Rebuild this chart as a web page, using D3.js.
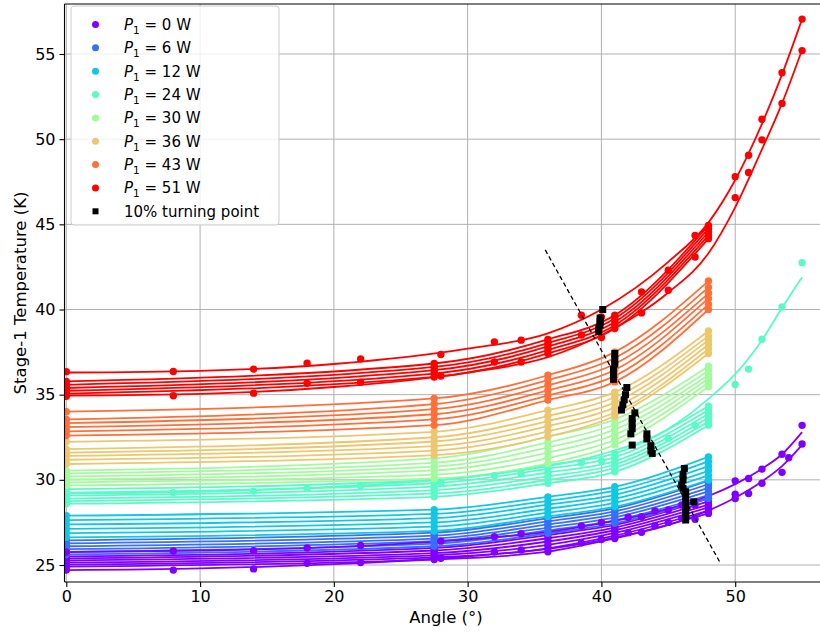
<!DOCTYPE html>
<html>
<head>
<meta charset="utf-8">
<script src="https://cdn.jsdelivr.net/npm/d3@7"></script>
<style>
body { margin: 0; background: #fff; }
svg { font-family: "DejaVu Sans", sans-serif; }
</style>
</head>
<body>
<div id="chart"></div>
<script>
// ---- data ----

var powers = [0, 6, 12, 24, 30, 36, 43, 51];
var colors = ["#8000ff", "#376ff9", "#12c7e6", "#5bf9c7", "#a4f99f", "#edc76f", "#ff6f39", "#ff0000"];

// short runs, measured at these angles (one row per curve)
var shortAngles = [0, 27.5, 36, 41, 48];

var shortP0 = [
  [25.50, 26.00, 26.76, 27.35, 28.91],
  [25.38, 25.85, 26.57, 27.20, 28.73],
  [25.26, 25.70, 26.38, 27.04, 28.55],
  [25.14, 25.57, 26.18, 26.88, 28.38],
  [25.02, 25.45, 25.98, 26.72, 28.20],
  [24.90, 25.32, 25.78, 26.56, 28.03]
];
var shortP6 = [
  [26.45, 26.90, 27.74, 28.32, 29.95],
  [26.27, 26.72, 27.56, 28.15, 29.74],
  [26.10, 26.55, 27.38, 27.97, 29.53],
  [25.93, 26.40, 27.20, 27.80, 29.32],
  [25.77, 26.25, 27.03, 27.62, 29.11],
  [25.62, 26.10, 26.86, 27.45, 28.91]
];
var shortP12 = [
  [27.90, 28.25, 29.00, 29.59, 31.35],
  [27.64, 28.00, 28.77, 29.36, 31.08],
  [27.38, 27.75, 28.54, 29.12, 30.80],
  [27.12, 27.50, 28.30, 28.89, 30.53],
  [26.87, 27.25, 28.07, 28.65, 30.26],
  [26.62, 27.00, 27.85, 28.42, 29.99]
];
var shortP24 = [
  [29.45, 29.99, 30.87, 31.55, 34.33],
  [29.25, 29.80, 30.65, 31.33, 34.10],
  [29.07, 29.60, 30.43, 31.10, 33.88],
  [28.90, 29.40, 30.20, 30.90, 33.65],
  [28.75, 29.20, 30.00, 30.70, 33.43],
  [28.60, 29.00, 29.80, 30.47, 33.21]
];
var shortP30 = [
  [30.54, 31.26, 32.53, 33.55, 36.67],
  [30.38, 31.00, 32.20, 33.25, 36.40],
  [30.20, 30.78, 31.90, 32.95, 36.15],
  [30.02, 30.55, 31.60, 32.65, 35.95],
  [29.85, 30.30, 31.28, 32.35, 35.70],
  [29.67, 30.08, 30.96, 32.05, 35.46]
];
var shortP36 = [
  [32.23, 32.82, 34.09, 35.15, 38.74],
  [31.80, 32.50, 33.75, 34.85, 38.45],
  [31.60, 32.25, 33.45, 34.55, 38.20],
  [31.41, 31.98, 33.15, 34.25, 37.95],
  [31.18, 31.72, 32.85, 33.95, 37.68],
  [30.93, 31.45, 32.53, 33.75, 37.42]
];
var shortP43 = [
  [34.00, 34.78, 36.14, 37.50, 41.67],
  [33.55, 34.45, 35.85, 37.15, 41.30],
  [33.33, 34.15, 35.55, 36.80, 40.95],
  [33.10, 33.85, 35.25, 36.45, 40.65],
  [32.85, 33.55, 34.95, 36.10, 40.30],
  [32.60, 33.21, 34.68, 35.75, 40.00]
];
var shortP51 = [
  [35.78, 36.83, 38.24, 39.66, 44.94],
  [35.58, 36.63, 38.03, 39.47, 44.75],
  [35.39, 36.44, 37.83, 39.27, 44.55],
  [35.23, 36.24, 37.62, 39.07, 44.35],
  [35.06, 36.04, 37.42, 38.88, 44.16]
];
var shortRuns = [shortP0, shortP6, shortP12, shortP24, shortP30, shortP36, shortP43, shortP51];

// long sweeps out to 55 deg: measured points
var longP0aAngle = [0, 8, 14, 18, 22, 28, 32, 34, 38.5, 40, 42, 43, 44, 45, 46, 47, 50, 51, 52, 53.5, 54, 55];
var longP0aTemp  = [25.75, 25.82, 25.84, 26.0, 26.15, 26.4, 26.66, 26.84, 27.29, 27.5, 27.8, 27.83, 28.18, 28.23, 28.52, 28.52, 29.94, 30.08, 30.63, 31.5, 31.3, 33.2];
var longP0bAngle = [0, 8, 14, 18, 22, 28, 32, 34, 38.5, 40, 42, 43, 44, 45, 46, 47, 50, 50, 51, 52, 53.5, 55];
var longP0bTemp  = [24.7, 24.7, 24.77, 25.1, 25.14, 25.4, 25.76, 25.88, 26.3, 26.5, 26.9, 26.92, 27.3, 27.5, 27.74, 27.68, 29.16, 28.9, 29.2, 29.8, 30.44, 32.1];
var longP24Angle = [0, 8, 14, 18, 22, 28, 32, 34, 38.5, 40, 45, 47, 50, 51, 52, 53.5, 55];
var longP24Temp  = [29.2, 29.24, 29.34, 29.5, 29.65, 29.85, 30.24, 30.36, 31.0, 31.1, 32.43, 33.2, 35.6, 36.5, 38.25, 40.15, 42.75];
var longP51aAngle = [0, 8, 14, 18, 22, 28, 32, 34, 38.5, 40, 43, 45, 47, 50, 51, 52, 53.5, 55];
var longP51aTemp  = [36.35, 36.36, 36.5, 36.85, 37.1, 37.36, 38.1, 38.2, 39.66, 39.56, 41.03, 42.3, 44.35, 47.8, 49.06, 51.17, 53.9, 57.05];
var longP51bAngle = [0, 8, 14, 18, 22, 28, 32, 34, 38.5, 40, 43, 45, 47, 50, 51, 52, 53.5, 55];
var longP51bTemp  = [34.9, 34.94, 35.09, 35.67, 35.73, 36.1, 36.92, 36.92, 38.5, 38.36, 39.8, 41.13, 43.08, 46.57, 48.04, 49.96, 52.1, 55.2];

// fitted curves of the long sweeps
var fitAngles = [0, 10, 20, 30, 36, 40, 45, 48, 50, 52, 53.5, 55];
var fitP0a  = [25.75, 25.85, 26.05, 26.5, 26.95, 27.45, 28.3, 29.05, 29.75, 30.65, 31.5, 32.8];
var fitP0b  = [24.7, 24.8, 25.05, 25.5, 25.95, 26.45, 27.35, 28.2, 28.95, 29.9, 30.8, 32.05];
var fitP24  = [29.2, 29.3, 29.6, 30.15, 30.8, 31.5, 33.0, 34.75, 36.2, 38.2, 40.1, 41.9];
var fitP51a = [36.3, 36.4, 36.8, 37.7, 38.6, 40.0, 42.8, 45.1, 47.6, 50.9, 53.8, 57.05];
var fitP51b = [34.95, 35.05, 35.45, 36.3, 37.2, 38.5, 41.0, 43.3, 46.0, 49.4, 52.1, 55.25];

// 10% turning points
var turnAngle = [40.1, 39.9, 39.9, 39.9, 39.8, 39.8, 41.0, 41.0, 41.0, 40.9, 40.9, 40.9,
                 41.9, 41.8, 41.7, 41.6, 41.5, 42.5, 42.3, 42.3, 42.3, 42.2, 42.3,
                 43.4, 43.4, 43.7, 43.7, 43.8, 46.2, 46.1, 46.1, 46.0, 46.1,
                 46.3, 46.3, 46.3, 46.9, 46.3, 46.3, 46.3, 46.3];
var turnTemp  = [40.0, 39.5, 39.3, 39.1, 38.9, 38.7, 37.42, 37.1, 36.8, 36.5, 36.2, 35.9,
                 35.42, 35.0, 34.7, 34.4, 34.1, 33.93, 33.6, 33.3, 33.0, 32.7, 32.04,
                 32.7, 32.4, 32.0, 31.7, 31.55, 30.67, 30.3, 30.0, 29.7, 29.5,
                 29.3, 29.0, 28.7, 28.71, 28.4, 28.1, 27.9, 27.64];

// dashed guide line
var guideAngle = [35.8, 48.9];
var guideTemp = [43.5, 25.1];

var xTicks = [0, 10, 20, 30, 40, 50];
var yTicks = [25, 30, 35, 40, 45, 50, 55];

// ---- chart setup ----

var width = 820;
var height = 632;

var plotLeft = 64.5;
var plotTop = 4;
var plotBottom = 582;
var plotRight = 840;

var svg = d3.select("#chart")
  .append("svg")
  .attr("width", width)
  .attr("height", height);

var x = d3.scaleLinear().domain([0, 50]).range([66.3, 735.2]);
var y = d3.scaleLinear().domain([25, 55]).range([565, 54]);

svg.append("clipPath").attr("id", "plotClip")
  .append("rect")
  .attr("x", plotLeft).attr("y", plotTop)
  .attr("width", plotRight - plotLeft).attr("height", plotBottom - plotTop);

// grid
var grid = svg.append("g").attr("stroke", "#b0b0b0").attr("stroke-width", 1);
xTicks.forEach(function (t) {
  grid.append("line").attr("x1", x(t)).attr("x2", x(t)).attr("y1", plotTop).attr("y2", plotBottom);
});
yTicks.forEach(function (t) {
  grid.append("line").attr("x1", plotLeft).attr("x2", plotRight).attr("y1", y(t)).attr("y2", y(t));
});

var plot = svg.append("g").attr("clip-path", "url(#plotClip)");

var line = d3.line()
  .x(function (d) { return x(d[0]); })
  .y(function (d) { return y(d[1]); })
  .curve(d3.curveMonotoneX);

var dotR = 3.7;

// fitted lines
shortRuns.forEach(function (runs, gi) {
  runs.forEach(function (vals) {
    plot.append("path")
      .attr("d", line(shortAngles.map(function (a, i) { return [a, vals[i]]; })))
      .attr("fill", "none")
      .attr("stroke", colors[gi])
      .attr("stroke-width", 1.8);
  });
});

var longFits = [[fitP0a, 0], [fitP0b, 0], [fitP24, 3], [fitP51a, 7], [fitP51b, 7]];
longFits.forEach(function (f) {
  plot.append("path")
    .attr("d", line(fitAngles.map(function (a, i) { return [a, f[0][i]]; })))
    .attr("fill", "none")
    .attr("stroke", colors[f[1]])
    .attr("stroke-width", 1.8);
});

// measured points
shortRuns.forEach(function (runs, gi) {
  runs.forEach(function (vals) {
    plot.append("g").selectAll("circle")
      .data(shortAngles.map(function (a, i) { return [a, vals[i]]; }))
      .enter().append("circle")
      .attr("cx", function (d) { return x(d[0]); })
      .attr("cy", function (d) { return y(d[1]); })
      .attr("r", dotR)
      .attr("fill", colors[gi]);
  });
});

var longSets = [
  [longP0aAngle, longP0aTemp, 0],
  [longP0bAngle, longP0bTemp, 0],
  [longP24Angle, longP24Temp, 3],
  [longP51aAngle, longP51aTemp, 7],
  [longP51bAngle, longP51bTemp, 7]
];
longSets.forEach(function (s) {
  plot.append("g").selectAll("circle")
    .data(s[0].map(function (a, i) { return [a, s[1][i]]; }))
    .enter().append("circle")
    .attr("cx", function (d) { return x(d[0]); })
    .attr("cy", function (d) { return y(d[1]); })
    .attr("r", dotR)
    .attr("fill", colors[s[2]]);
});

// guide line
plot.append("path")
  .attr("d", d3.line()
    .x(function (d) { return x(d[0]); })
    .y(function (d) { return y(d[1]); })(guideAngle.map(function (a, i) { return [a, guideTemp[i]]; })))
  .attr("stroke", "#000")
  .attr("stroke-width", 1.3)
  .attr("stroke-dasharray", "4.5,3")
  .attr("fill", "none");

// turning point squares
var sq = 7;
plot.append("g").selectAll("rect")
  .data(turnAngle.map(function (a, i) { return [a, turnTemp[i]]; }))
  .enter().append("rect")
  .attr("x", function (d) { return x(d[0]) - sq / 2; })
  .attr("y", function (d) { return y(d[1]) - sq / 2; })
  .attr("width", sq)
  .attr("height", sq)
  .attr("fill", "#000");

// spines
var spines = svg.append("g").attr("stroke", "#000").attr("stroke-width", 1.1);
spines.append("line").attr("x1", plotLeft).attr("x2", plotLeft).attr("y1", plotTop).attr("y2", plotBottom);
spines.append("line").attr("x1", plotLeft).attr("x2", plotRight).attr("y1", plotBottom).attr("y2", plotBottom);
spines.append("line").attr("x1", plotLeft).attr("x2", plotRight).attr("y1", plotTop).attr("y2", plotTop);

// axes
var xAxis = svg.append("g")
  .attr("transform", "translate(0," + plotBottom + ")")
  .call(d3.axisBottom(x).tickValues(xTicks).tickSize(5).tickPadding(4).tickFormat(d3.format("d")));
var yAxis = svg.append("g")
  .attr("transform", "translate(" + plotLeft + ",0)")
  .call(d3.axisLeft(y).tickValues(yTicks).tickSize(5).tickPadding(4).tickFormat(d3.format("d")));
[xAxis, yAxis].forEach(function (ax) {
  ax.select(".domain").remove();
  ax.selectAll(".tick line").attr("stroke", "#000").attr("stroke-width", 1.1);
  ax.selectAll(".tick text")
    .attr("fill", "#000")
    .style("font-family", "DejaVu Sans")
    .style("font-size", "16px");
});

// axis labels
svg.append("text")
  .attr("x", 446)
  .attr("y", 623)
  .attr("text-anchor", "middle")
  .style("font-size", "16.5px")
  .text("Angle (\u00b0)");

svg.append("text")
  .attr("transform", "translate(26,293) rotate(-90)")
  .attr("text-anchor", "middle")
  .style("font-size", "16.5px")
  .text("Stage-1 Temperature (K)");

// legend
var legend = svg.append("g");
legend.append("rect")
  .attr("x", 71).attr("y", 6)
  .attr("width", 208).attr("height", 219)
  .attr("rx", 3)
  .attr("fill", "#fff").attr("fill-opacity", 0.8)
  .attr("stroke", "#ccc").attr("stroke-width", 1);

var rowY = 24.5;
var rowGap = 23.35;
powers.forEach(function (p, i) {
  var cy = rowY + i * rowGap;
  legend.append("circle").attr("cx", 95.5).attr("cy", cy).attr("r", 3.5).attr("fill", colors[i]);
  var t = legend.append("text")
    .attr("x", 124).attr("y", cy + 5.5)
    .style("font-size", "15px");
  t.append("tspan").style("font-style", "italic").text("P");
  t.append("tspan").attr("dy", 4).style("font-size", "10.5px").text("1");
  t.append("tspan").attr("dy", -4).text(" = " + p + " W");
});
var lastY = rowY + powers.length * rowGap;
legend.append("rect").attr("x", 92.5).attr("y", lastY - 3).attr("width", 6).attr("height", 6).attr("fill", "#000");
legend.append("text")
  .attr("x", 124).attr("y", lastY + 5.5)
  .style("font-size", "15px")
  .text("10% turning point");
</script>
</body>
</html>
